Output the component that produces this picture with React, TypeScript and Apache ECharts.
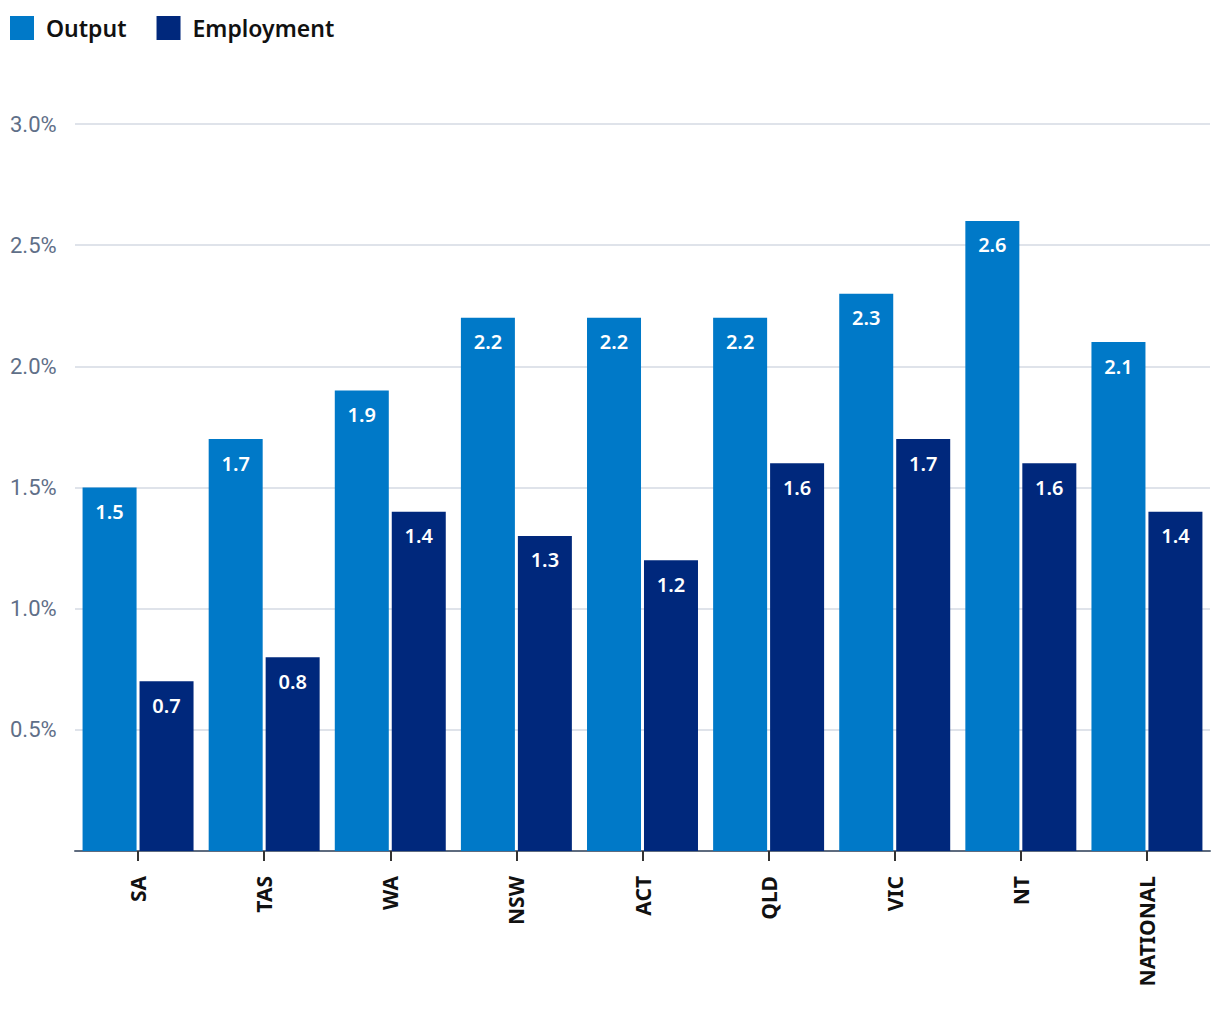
import React, { useEffect, useRef } from "react";
import * as echarts from "echarts";

const categories = ["SA", "TAS", "WA", "NSW", "ACT", "QLD", "VIC", "NT", "NATIONAL"];
const outputValues = [1.5, 1.7, 1.9, 2.2, 2.2, 2.2, 2.3, 2.6, 2.1];
const employmentValues = [0.7, 0.8, 1.4, 1.3, 1.2, 1.6, 1.7, 1.6, 1.4];
const seriesNames = ["Output", "Employment"];
const colors = ["#0079C8", "#00287C"];

const FONT = "'Noto Sans', 'Open Sans', sans-serif";

export default function App() {
  const ref = useRef<HTMLDivElement>(null);
  useEffect(() => {
    document.body.style.margin = "0";
    const chart = echarts.init(ref.current!, null, { renderer: "svg" });
    const label = {
      show: true,
      position: "insideTop",
      distance: 14,
      color: "#ffffff",
      fontSize: 20,
      fontWeight: 600,
      fontFamily: FONT,
      formatter: (p: any) => Number(p.value).toFixed(1),
    };
    chart.setOption({
      animation: false,
      color: colors,
      textStyle: { fontFamily: FONT },
      legend: {
        left: 10,
        top: 16,
        padding: 0,
        itemWidth: 24,
        itemHeight: 24,
        itemGap: 30,
        icon: "rect",
        data: seriesNames,
        textStyle: {
          fontSize: 23,
          fontWeight: 600,
          color: "#111111",
          fontFamily: FONT,
          padding: [0, 0, 0, 7],
        },
      },
      grid: { left: 75, right: 10, top: 124, bottom: 169, containLabel: false },
      xAxis: {
        type: "category",
        data: categories,
        axisLine: { lineStyle: { color: "#5E6B7E", width: 2 } },
        axisTick: { show: true, alignWithLabel: true, length: 10, lineStyle: { color: "#333333", width: 2 } },
        axisLabel: {
          rotate: 90,
          margin: 25,
          fontSize: 21,
          fontWeight: 700,
          color: "#111111",
          fontFamily: FONT,
        },
      },
      yAxis: {
        type: "value",
        min: 0,
        max: 3,
        interval: 0.5,
        axisLine: { show: false },
        axisTick: { show: false },
        splitLine: { lineStyle: { color: "#D5DAE3", width: 1.5 } },
        axisLabel: {
          align: "left",
          margin: 65,
          fontSize: 22,
          fontWeight: 400,
          color: "#5F6F88",
          fontFamily: "Roboto, 'Noto Sans', sans-serif",
          formatter: (v: number) => (v === 0 ? "" : v.toFixed(1) + "%"),
        },
      },
      series: [
        {
          name: seriesNames[0],
          type: "bar",
          data: outputValues,
          barCategoryGap: "12%",
          barGap: "5.5%",
          label,
        },
        {
          name: seriesNames[1],
          type: "bar",
          data: employmentValues,
          barCategoryGap: "12%",
          barGap: "5.5%",
          label,
        },
      ],
    });
    return () => chart.dispose();
  }, []);
  return <div ref={ref} style={{ width: 1220, height: 1020 }} />;
}
